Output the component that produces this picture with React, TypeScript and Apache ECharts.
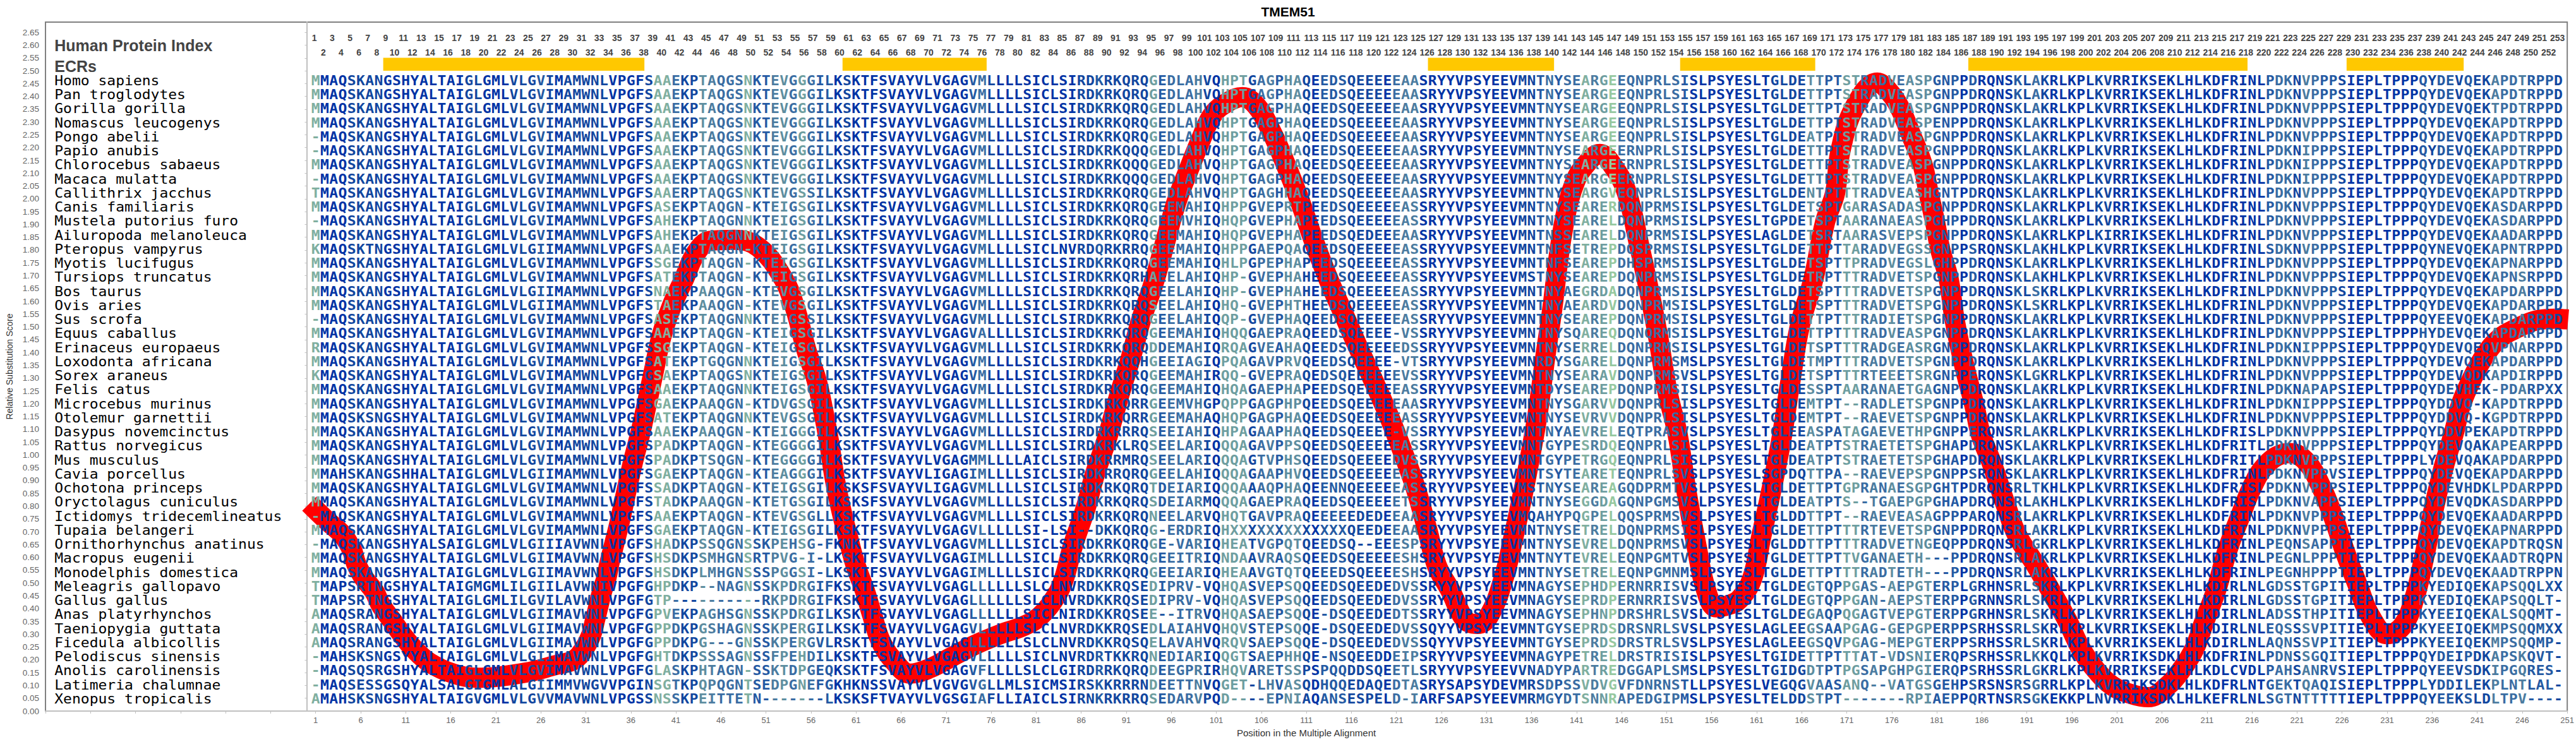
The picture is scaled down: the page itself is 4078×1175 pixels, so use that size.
import React, { useEffect, useRef } from "react";
import * as echarts from "echarts";

const chartTitle = "TMEM51";
const speciesNames = [
  "Homo sapiens","Pan troglodytes","Gorilla gorilla","Nomascus leucogenys","Pongo abelii","Papio anubis","Chlorocebus sabaeus","Macaca mulatta","Callithrix jacchus","Canis familiaris","Mustela putorius furo","Ailuropoda melanoleuca","Pteropus vampyrus","Myotis lucifugus","Tursiops truncatus","Bos taurus","Ovis aries","Sus scrofa","Equus caballus","Erinaceus europaeus","Loxodonta africana","Sorex araneus","Felis catus","Microcebus murinus","Otolemur garnettii","Dasypus novemcinctus","Rattus norvegicus","Mus musculus","Cavia porcellus","Ochotona princeps","Oryctolagus cuniculus","Ictidomys tridecemlineatus","Tupaia belangeri","Ornithorhynchus anatinus","Macropus eugenii","Monodelphis domestica","Meleagris gallopavo","Gallus gallus","Anas platyrhynchos","Taeniopygia guttata","Ficedula albicollis","Pelodiscus sinensis","Anolis carolinensis","Latimeria chalumnae","Xenopus tropicalis",
];

const seg1 = [
"MMAQSKANGSHYALTAIGLGMLVLGVIMAMWNLVPGFSAAEK",
"MMAQSKANGSHYALTAIGLGMLVLGVIMAMWNLVPGFSAAEK",
"MMAQSKANGSHYALTAIGLGMLVLGVIMAMWNLVPGFSAAEK",
"MMAQSKANGSHYALTAIGLGMLVLGVIMAMWNLVPGFSAAEK",
"-MAQSKANGSHYALTAIGLGMLVLGVIMAMWNLVPGFSAAEK",
"-MAQSKANGSHYALTAIGLGMLVLGVIMAMWNLVPGFSAAEK",
"MMAQSKANGSHYALTAIGLGMLVLGVIMAMWNLVPGFSAAEK",
"-MAQSKANGSHYALTAIGLGMLVLGVIMAMWNLVPGFSAAEK",
"TMAQSKANGSHYALTAIGLGMLVLGVIMAMWNLVPGFSAAER",
"MMAQSKANGSHYALTAIGLGMLVLGVIMAMWNLVPGFSASEK",
"-MAQSKANGSHYALTAIGLGMLVLGVIMAMWNLVPGFSAHEK",
"MMAQSKANGSHYALTAIGLGMLVLGVIMAMWNLVPGFSAHEK",
"KMAQSKTNGSHYALTAIGLGMLVLGIIMAMWNLVPGFSAAEK",
"MMAQSKANGSHYALTAIGLGMLVLGVIMAMWNLVPGFSSGEK",
"MMAQSKANGSHYALTAIGLGMLVLGVIMAMWNLVPGFSATEK",
"MMAQSKANGSHYALTAIGLGMLVLGIIMAMWNLVPGFSNAEK",
"MMAQSKANGSHYALTAIGLGMLVLGIIMAMWNLVPGFSTAEK",
"-MAQSKANGSHYALTAIGLGMLVLGVIMAMWNLVPGFSASEK",
"MMAQSKANGSHYALTAIGLGMLVLGVIMAMWNLVPGFSAAEK",
"RMAQSKANGSHYALTAIGLGMLVLGVIMAMWNLVPGFSSGEK",
"MMAQSKANGSHYALTAIGLGMLVLGVIMAMWNLVPGFSATEK",
"KMAQSKANGSHYALTAIGLGMLVLGVIMAMWNLVPGFGSAEK",
"MMAQSKANGSHYALTAIGLGMLVLGVIMAMWNLVPGFSAAEK",
"MMAQSKANGSHYALTAIGLGMLVLGVIMAMWNLVPGFSGAEK",
"MMAQSKSNGSHYALTAIGLGMLVLGVIMAMWNLVPGFSATEK",
"MMAQSKANGSHYALTAIGLGMLVLGVIMAMWNLVPGFSAAEK",
"MMAQSKANGSHYALTAIGLGMLVLGVIMAMWNLVPGFSPADK",
"MMAQSKANGSHYALTAIGLGMLVLGVIMAMWNLVPGFSPADK",
"MMAHSKANGSHHALTAIGLGMLVLGIIMAMWNLVPGFSGAEK",
"MMAQSKANGSHYALTAIGLGMLVLGVIMAMWNLVPGFSSADK",
"MMAQSKANGSHYALTAIGLGMLVLGVIMAMWNLVPGFSTADK",
"-MAQSKANGSHYALTAIGLGMLVLGVIMAMWNLVPGFSAAEK",
"MMAQSKANGSHYALTAIGLGMLVLGVIMAMWNLVPGFSGAEK",
"-MAQSKANGSHYALSAIGLGMLVLGIIIAVWNLVPGFSHADK",
"MMAQSKANGSHYALTAIGLGMLVLGIIMAVWNLVPGFSHSDK",
"MMAQSKANGSHYALTAIGLGMLVLGIIMAVWNLVPGFSHSDK",
"TMAPSRTNGSHYALTAIGMGMLILGIILAVWNIVPGFGHPDK",
"TMAPSRTNGSHYALTAIGLGMLILGVILAVWNLVPGFGTP--",
"AMAQSRANGSHYALTAIGLGMLVLGIIMAVWNLVPGFGPVEK",
"AMAQSRANGSHYALTAIGLGMLVLGIIMAVWNLVPGFGPPDK",
"AMAQSRANGSHYALTAIGLGMLVLGIIMAVWNLVPGFGPPDK",
"-MAHSKSNGSYYALTAIGLGMLVLGIIMAVWNLVPGFGHTDK",
"-MAQSQSRGSHYALTAIGLGMLVLGVIMAVWNLVPGFGLASK",
"-MAQSESSGSQYALSALGIGMLALGIIMMVWGVVPGINSGTK",
"AMAHSKSNGSHYALTAIGVGMLVLGVVMAVWNLVPGSSNSSK",
];

const seg2 = [
"PTAQGSNKTEVGGGILKSKTFSVAYVLVGAGVMLLLLSICLS",
"PTAQGSNKTEVGGGILKSKTFSVAYVLVGAGVMLLLLSICLS",
"PTAQGSNKTEVGGGILKSKTFSVAYVLVGAGVMLLLLSICLS",
"PTAQGSNKTEVGGGILKSKTFSVAYVLVGAGVMLLLLSICLS",
"PTAQGSNKTEVGGGILKSKTFSVAYVLVGAGVMLLLLSICLS",
"PTAQGSNKTEVGGGILKSKTFSVAYVLVGAGVMLLLLSICLS",
"PTAQGSNKTEVGGGILKSKTFSVAYVLVGAGVMLLLLSICLS",
"PTAQGSNKTEVGGGILKSKTFSVAYVLVGAGVMLLLLSICLS",
"PTAQGSNKTEVGSSILKSKTFSVAYVLVGAGVMLLLLSICLS",
"PTAQGN-KTEIGSGILKSKTFSVAYVLVGAGVMLLLLSICLS",
"PTAQGNNKTEIGSGILKSKTFSVAYVLVGAGVMLLLLSICLS",
"PTAQGNNKTEIGSGILKSKTFSVAYVLVGAGVMLLLLSICLS",
"PTAQGN-KTEIGSGILKSKTFSVAYVLVGAGVMLLLLSICLN",
"PTAQGN-KTEIGSGILKSKTFSVAYVLVGAGVMLLLLSICLS",
"PTAQGN-KTEIGSGILKSKTFSVAYVLVGAGVMLLLLSICLS",
"PAAQGN-KTEVGSGILKSKTFSVAYVLVGAGVMLLLLSICLS",
"PAAQGN-KTEVGSGILKSKTFSVAYVLVGAGVMLLLLSICLS",
"PTAQGNNKTEIGSSILKSKTFSVAYVLVGAGVMLLLLSICLS",
"PTAQGN-KTEIGSGILKSKTFSVAYVLVGAGVALLLLSICLS",
"PTAQGN-KTEIGSGILKSKTFSVAYVLVGAGVMLLLLSICLS",
"PTGQGNNKTEIGSGILKSKTFSVAYVLVGAGVMLLLLSICLS",
"PTAQGSNKTEIGSGILKSKTFSVAYVLVGAGVMLLLLSICLS",
"PTAQGNNKTEIGSGILKSKTFSVAYVLVGAGVMLLLLSICLS",
"PAAQGN-KTDVGSGILKSKTFSVAYVLVGAGVMLLLLSICLS",
"PTAQGNNKTEVGSGILKSKTFSVAYVLVGAGVMLLLLSICLS",
"PAAQGN-KTEIGGGILKSKTFSVAYVLVGAGVMLLLLSICLS",
"PTAQGN-KTEGGGGILKSKTFSVAYVLVGAGVMLLLLSICLS",
"PTSQGN-KTEGGGGILKSKTFSVAYVLVGAGMMLLLLAICLS",
"PTAQGN-KTEAGGGILKSKTFSVAYVLIGAGIMLLLLSICLS",
"PTAQGN-KTEIGSGILKSKSFSVAYVLIGAGVMLLLLSICLS",
"PAAQGN-KTETGSGILKSKSFSVAYVLVGAGVMLLLLSICLS",
"PTAQGN-KTEVGSGLLKSKTFSVAYVLVGAGVMLLLLSICLS",
"PTAQGN-KTEIGSGILKSKTFSVAYVLVGAGVLLLLLSI-LS",
"PSSQGNSSKPEHSG-FKNKTFSVAYVLVGAGVMLLLLSICLS",
"PSMHGNSRTPVG-I-LKSKTFSVAYVLVGAGIMLLLLSICLS",
"PLMHGNSSSPGGSI-LKSKTFSVAYVLVGAGIMLLLLSICLS",
"P--NAGNSSKPDRGIFKSKTFSVAYVLVGAGLLLLLLSLCLN",
"--------RKPDRGIFKSKTFSVAYVLVGAGLLLLLLSLCLN",
"PAGHSGNSSKPDRGILKSKTFSVAYVLVGAGLLLLLLSICLN",
"PGSHAGNSSKPERGILKSKTFSVAYVLVGAGVLLLLLSLCLN",
"PG---GNSSKPERGVLRSKTFSVAYVLVGAGLLLLLLSLCLN",
"PSSSAGNSSFPEHDILKSKTFSVAYVLVGAGVLLLLLSICLN",
"PHTAGN-SSKTDPGEQKSKTFSVAYVLVGAGVFLLLLSLCLG",
"PQPQGNTSEDPGNEFGKHKNSSVAYVLVGVGVGLLMLSICMS",
"PEITTETN-------LKSKSFTVAYVLVGSGIAFLLIAICLS",
];

const seg3 = [
"IRDKRKQRQGEDLAHVQHPTGAGPHAQEEDSQEEEEEAASR",
"IRDKRKQRQGEDLAHVQHPTGAGPHAQEEDSQEEEEEAASR",
"IRDKRKQRQGEDLAHVQHPTGAGPHAQEEDSQEEEEEAASR",
"IRDKRKQRQGEDLAHVQHPTGAGPHAQEEDSQEEEEEAASR",
"IRDKRKQRQGEDLAHVQHPTGAGPHAQEEDSQEEEEEAASR",
"IRDKRKQQQGEDLAHVQHPTGAGPHAQEEDSQEEEEEAASR",
"IRDKRKQQQGEDLAHVQHPTGAGPHAQEEDSQEEEEEAASR",
"IRDKRKQQQGEDLAHVQHPTGAGPHAQEEDSQEEEEEAASR",
"IRDKRKQRQGEDLAHVQHPTGAGHHAQEEDSQEEEEEAASR",
"IRDKRKQRQGEEMAHIQHPPGVEPRTPEEDSQEEEEEASSR",
"IRDKRKQRQGEEMVHIQHQPGVEPHAPEEDSQEEEEEASSR",
"IRDKRKQRQGEEMAHIQHQPGVEPHAPEEDSQEDEEEAASR",
"VRDQRKRRQGEEMAHIQHPPGAEPQAQEEDSQEEEEEASSR",
"IRDKRKQRQGEEMAHIQHLPGPEPHAPEEDSQEEEEEASSR",
"IRDKRKQRHAEELAHIQHP-GVEPHAHEEDSQEEEEEASSR",
"IRDKRKQRQGEELAHIQHP-GVEPHAHEEDSQEEEEEASSR",
"IRDKRKQRQSEELAHIQHQ-GVEPHTHEEDSQEEEEEASSR",
"IRDKRKQRQGEELAHIQQP-GVEPHAQEEDSQEEEEEASSR",
"IRDKRKQRQGEEMAHIQHQQGAEPRAQEEDSQEEEE-VSSR",
"IRDKRKQRQDDEMAHIQRQAGVEAHAQEEDSQEEEEEDSSR",
"IRDKRKQQHGEEIAGIQPQAGAVPRVQEEDSQEEEE-VTSR",
"IRDKRKQRQGEEMAHIRQQ-GVEPRAQEDSQEEEEEEVSSR",
"IRDKRKQRQGEEMAHIQHQAGAEPHAPEEDSQEEEEEASSR",
"IRDKRKQRRGEEMVHGPQPPGAGPHPQEEDSQEEEEEAASR",
"IRDKRKQRRGEEMAHAQHQPGAGPHAQEEDSQEEEEEASSR",
"IRDRKRRRQSEEIAHIQHPAGAAPHAQEEDSQEEEE-VSSR",
"IRDKRKLRQSEELARIQQQAGAVPPSQEEDSQEEEEEASSR",
"IRDKRRMRQSEELARIQQQAGTVPHSQEEDSQEEEEDVSSR",
"IRDKRRQRQGEELAHIQQQAGAAPHVQEEDSQEEEEEASSR",
"IRDKRKQRQTDEIARIQQQAAAQPHAQEENNQEEEEEASSR",
"IRDKRKQRQSDEIARMQQQAGAEPRAQEEDSQEEEEETSSR",
"IRDKRKQRQNEELARVQHQTGAVPRAQEEEEEDEDEEAASR",
"I--DKKQRQG-ERDRIQHXXXXXXXXXXXXXQEEDEEAASR",
"IRDKRKQRQGE-VARIQHEATVGPQTQEEDSQ--EEESPSR",
"IRDKRKQRQGEEITRIQNDAAVRAQSQEEDSQEEEEESHSR",
"IRDKRKQRQGEEIARIQHEAAVGTQTQEEEDSQEEEESHSR",
"VRDKKRQSEDIPRV-VQHQASVEPSQQEEDSQEEDEDVSSR",
"VRDKKRQSEDIPRV-VQHQASVEPSQQEEDSQEEDEDVSSR",
"IRDKKRQSEE--ITRVQHQASAEPSQQE-DSQEEDEDTSSR",
"VRDKKRQSEDLAIAHVQHQVSTEPSQQE-DSQEEDEDVSSQ",
"VRDKKRQSQELAVAHVQRQVSAEPSQQE-DSQEEDEDVSSQ",
"VRDRTKKRQNEDIARIQQGTSAEPHHQE-NSQEEDDEIPSR",
"IRDRRKQRQDEEGPRIRHQVARETSSPSPQQDDSQEETLSR",
"IRSKKRRRNDEETTNVQGET-LHVASQDHQQEDAQEDTASR",
"IRNKRKRRQSEDARVPQD----EPNIAQANSESPELD-IAR",
];

const seg4 = [
"YYVPSYEEVMNTNYSEARGEEQNPRLSISLPSYESLTGLDET",
"YYVPSYEEVMNTNYSEARGEEQNPRLSISLPSYESLTGLDET",
"YYVPSYEEVMNTNYSEARGEEQNPRLSISLPSYESLTGLDET",
"YYVPSYEEVMNTNYSEARGEEQNPRLSISLPSYESLTGLDET",
"YYVPSYEEVMNTNYSEARGEEQNPRLSISLPSYESLTGLDEA",
"YYVPSYEEVMNTNYSEARGEERNPRLSISLPSYESLTGLDET",
"YYVPSYEEVMNTNYSEARGEERNPRLSISLPSYESLTGLDET",
"YYVPSYEEVMNTNYSEARGEERNPRLSISLPSYESLTGLDET",
"YYVPSYEEVMNTNYSEARGVEQNPRLSISLPSYESLTGLDEN",
"YYVPSYEEVMNTNYSEARERDQNPRMSISLPSYESLTGLDET",
"YYVPSYEEVMNTNYSEARELDQNPRMSISLPSYESLTGPDET",
"YYVPSYEEVMNTNSSEARELDQNPRMSISLPSYESLAGLDET",
"YYVPSYEEVMNTNFSETREPDQSPRMSISLPSYESLTGLDET",
"YYVPSYEEVMNTNFSEAREPDHSPRMSISLPSYESLTGLDET",
"YYVPSYEEVMSTNYSEAREPDQNPRMSISLPSYESLTGLDET",
"YYVPSYEEVMNTNYAEGRDADQNPRMSISLPSYESLTGLDET",
"YYVPSYEEVMNTNYAEARDVDQNPRMSISLPSYESLTGLDET",
"YYVPSYEEVMNTNYSEAREPDQNPRMSISLPSYESLTGLDET",
"YYVPSYEEVMNTNYSQAREQDQNQRMSISLPSYESLTGLDET",
"YYVPSYEEVMNTNYSERRELDQNPRMSISLPSYESLTGLDET",
"YYVPSYEEVMNRDYSGARELDQNPRMSMSLPSYESLTGLDET",
"YYVPSYEEVMNTNYSEARAVDQNPRMSVSLPSYESLTGLDET",
"YYVPSYEEVMNTDYSEAREPDQNPRMSISLPSYESLTGLDES",
"YYVPSYEEVMNTNYSGARVVDQNPRLSISLPSYESLTGLDEM",
"YYVPSYEEVMNTNYSEVRVVDQNPRLSISLPSYESLTGLDEM",
"YYVPSYEEVMNTNYAEVRELEQTPRASVSLPSYESLTGLEEA",
"YYVPSYEEVMNTGYPESRDQEQNPRLSISLPSYESLTGLDEA",
"YYVPSYEEVMNTGYPETRGQEQNPRLSISLPSYESLTGLDEA",
"YYVPSYEEVMNTSYTEARETEQNPRLSVSLPSYESLSGPDQT",
"YYVPSYEEVMSTNYSEAREAGQDPRMTVSLPSYESLTGLDET",
"YYVPSYEEVMNTNYSEGGDAGQNPGMSVSLPSYESLTGLDEA",
"YYVPSYEEVMQAHYPQGPELQQSPRMSVSLPSYESLTGLDDT",
"YYVPSYEEVMNTNYSETRELDQNPRMSISLPSYESLTGLDET",
"YYVPSYEEVMNTNYSEVRELDQNPRMSVSLPSYESLTGLDDT",
"YYVPSYEEVMNTNYTEVRELEQNPGMTVSLPSYESLTGLDET",
"YYVPSYEEVMNTNYSETRELEQNPGMNMSLPSYESLTGLDET",
"YYVPSYEEVMNAGYSEPHDPERNRRISVSLPSYESLTGLDEG",
"YYVPSYEEVMNAGYSEPRDPERNRRISVSLPSYESLTGLDEG",
"YYVPSYEEVMNAGYSEPHNPDRSHRLSVSLPSYESLTGLDEG",
"YYVPSYEEVMNTGYSEPRDSDRSNRLSVSLPSYESLAGLEEG",
"YYVPSYEEVMNTGYSEPRDSDRSTRLSVSLPSYESLAGLEEG",
"YYVPSYEEVMNAGYPETRELDRSTRISISLPSYESLTGIDET",
"YYVPSYEEVVNADYPARTREDGGAPLSMSLPSYESLTGIDGD",
"YSAPSYDEVMRSDPSSVDVGVFDNRNSTLLPSYESLVEGQGV",
"FSAPSYEEVMRMGYDTSNNRAPEDGIPMSLPSYESLTELDDS",
];

const seg5 = [
"TPTSTRADVEASPGNPPDRQNSKLAKRLKPLKVRRIKSEKLH",
"TPTSTRADVEASPGNPPDRQNSKLAKRLKPLKVRRIKSEKLH",
"TPTSTRADVEASPGNPPDRQNSKLAKRLKPLKVRRIKSEKLH",
"TPTSTRADVEASPENPPDRQNSKLAKRLKPLKVRRIKSEKLH",
"TPTSTRADVEASPGNPPDRQNSKLAKRLKPLKVRRIKSEKLH",
"TPTSTRADVEASPGNPPDRQNSKLAKRLKPLKVRRIKSEKLH",
"TPTSTRADVEASPGNPPDRQNSKLAKRLKPLKVRRIKSEKLH",
"TPTSTRADVEASPGNPPDRQNSKLAKRLKPLKVRRIKSEKLH",
"TPTTTRADVEASHGNTPDRQNSKLAKRLKPLKVRRIKSEKLH",
"SPTGARASADASPGNPPDRQNSKLAKRLKPLKVRRIKSEKLH",
"SPTAARANAEASPGHPPDRQNSKLAKRLKPLKVRRIKSEKLH",
"SRTAARASVEPSPGNPPDRQNSKLAKRLKPLKIRRIKSEKLH",
"TPTTARADVEGSSGNPPSRQNSKLAKHLKPLKVRRIKSEKLH",
"SPTTPRADVEGSLGHPPDRQNSKLAKRLKPLKVRRIKSEKLH",
"RPTTTRADVETSPGNPPDRQNSKLAKHLKPLKVRRIKSEKLH",
"SPTTTRADVETSPGNPPDRQNSKLSKRLKPLKVRRIKSEKLH",
"SPTTTRADVETSPGNPPDRQNSKLSKRLKPLKVRRIKSEKLH",
"TPTTTRADIETSPGNPPDRQNSKLAKRLKPLKVRRIKSEKLH",
"TPTTTRADVEASPGNPPDRQNSKLAKRLKPLKVRRIKSEKLH",
"SPTTTRADGEASRGNPPDRQNSKLAKRLKPLKVRRIKSEKLH",
"MPTTTRADVETSPGNPPDRQNSKLAKRLKPLKVRRIKSEKLH",
"SPTTTRTEEETSRGNPPERQNSKLGKRLKPLKVRRIKSEKLH",
"SPTAARANAETGAGNPPDRQNSKLAKRLKPLKVRRIKSEKLH",
"TPT--RADLETSPGNPPDRQNSKLAKRLKPLKVRRIKSEKLH",
"TPT--RAEVETSPGNPPDRQNSKLAKRLKPLKVRRIKSEKLH",
"SPATAGAEVETHPGNPPERQNSRLAKRLKPLKVRRIKSEKLH",
"TPTSTRAETETSPGHAPDRQNSKLAKRLKPLKVRRIKSEKLH",
"TPTSTRAETETSPGHAPDRQNSKLAKRLKPLKVRRIKSEKLH",
"TPA--RAEVEPSPGNPPSRQNSKLAKRLKPLKVRRIKSEKLH",
"TPTGPRANAESGPGHTPDRQNSRLTKHLKPLKVRRIKSEKLH",
"TPTS--TGAEPGPGHAPDRQNSRLAKHLKPLKVRRIKSEKLH",
"TPT--RAEVEASAGPPPARQNSRLAKRLKPLKVRRIKSEKLH",
"TPTTTRTEVETSPGNPPDRQNSRLAKRLKPLKVRRIKSEKLH",
"TPTTTRADVETNGEQPPDRQNSRLGKRLKPLKVRRIKSEKLH",
"TPTTVGANAETH---PPDRQNSRLAKRLKPLKVRRIKSEKLH",
"TPTTTRADTETH---PPDRQNSRLAKRLKPLKVRRIKSEKLH",
"TQPPGAS-AEPGTERPLGRHNSRLSKRLKPLKVRRIKSEKLH",
"TQPPGAN-AEPSTERPPGRNNSRLSKRLKPLKVRRIKSEKLH",
"AQPQGAGTVEPGTERPPGRHNSRLSKRLKPLKVRRIKSEKLH",
"SAAPGAG-GEPGPERPPSRHSSRLSKRLKPLKVRRIKSEKLH",
"SQVPGAG-MEPGTERPPSRHSSRLSKRLKPLKVRRIKSEKLH",
"TPTTTAT-VDSNIERQPSRHSSRLKKQLKPLKVRRIKSDKLH",
"TPTPGSAPGHPGIERQPSRHSSRLGKRLKPLKVRRIKSEKLH",
"AASANQ--VATGSGEHPSRSNSRSGRRLKPLKVRRIKSDKLH",
"TPT-------RPIAEPPQRTNSRSGKEKKPLNVRRIKSDKLH",
];

const seg6 = [
"LKDFRINLPDKNVPPPSIEPLTPPPQYDEVQEKAPDTRPPD",
"LKDFRINLPDKNVPPPSIEPLTPPPQYDEVQEKAPDTRPPD",
"LKDFRINLPDKNVPPPSIEPLTPPPQYDEVQEKTPDTRPPD",
"LKDFRINLPDKNVPPPSIEPLTPPPQYDEVQEKAPDTRPPD",
"LKDFRINLPDKNVPPPSIEPLTPPPQYDEVQEKAPDTRPPD",
"LKDFRINLPDKNIPPPSIEPLTPPPQYDEVQEKAPDTRPPD",
"LKDFRINLPDKNIPPPSIEPLTPPPQYDEVQEKAPDTRPPD",
"LKDFRINLPDKNIPPPSIEPLTPPPQYDEVQEKAPDTRPPD",
"LKDFRINLPDKNVPPPSIEPLTPPPQYDEVQEKAPDTRPPD",
"LKDFRINLPDKNVPPPSIEPLTPPPQYDEVQEKASDARPPD",
"LKDFRINLPDKNVPPPSIEPLTPPPQYDEVQEKASDARPPD",
"LKDFRINLPDKNVPPPSIEPLTPPPQYDEVQEKAADARPPD",
"LKDFRINLSDKNVPPPSIEPLTPPPQYNEVQEKAPNTRPPD",
"LKDFRINLPDKNVPPPSIEPLTPPPQYDEVQEKAPNARPPD",
"LKDFRINLPDKNVPPPSIEPLTPPPQYDEVQEKAPNSRPPD",
"LKDFRINLPDKNVPPPSIEPLTPPPQYDEVQEKAPDARPPD",
"LKDFRINLPDKNVPPPSIEPLTPPPQYDEVQEKAPDARPPD",
"LKDFRINLPDKNVPPPSIEPLTPPPQYEEVQEKAPDARPPD",
"LKDFRINLPDKNVPPPSIEPLTPPPHYDEVQEKAPDARPPD",
"LKDFRINLPDKNIPPPSIEPLTPPPQYDEVQEQVPNARPPD",
"LKDFRINLPDKNVPPPSIEPLTPPPQYDEVQEKAPDARPPD",
"LKDFRINLPDKNVPPPSIEPLTPPPQYDEVQDKAPDIRPPD",
"LKDFRINLPDKNAPAPSIEPLTPPPQYDEVHEK-PDARPXX",
"LKDFRINLPDKNIPPPSIEPLTPPPQYDDVQ-KAPDTRPPD",
"LKDFRINLPDKNVPPPSIEPLTPPPQYDDVQ-KGPDTRPPD",
"LKDFRISLPDKNVPPPSIEPLTPPPQYDDVPEKAPDTRPPD",
"LKDFRITLPDKNVPPPSIEPLTPPPQYDEVQAKAPEARPPD",
"LKDFRITLPDKNVPPPSIEPLTPPPLYDEVQAKAPDARPPD",
"LKDFRINLPDKNVPPVSIEPLTPPPQYDEVQEKAPDARPPD",
"LKDFRISLPDKNVPPPSIEPLTPPPQYDEVHDKLPDARPPD",
"LKDFRISLPDKNVAPPSIEPLTPPPQYDEVQDKASDARPPD",
"LKDFRINLPDKNVPPPSIEPLTPPPQYDEVQEKAADARPPD",
"LKDFRINLPDKNVPPPSIEPLTPPPQYDEVQEKAPNARPPD",
"LKDFRINLPEQNSAPPTIEPLTPPPQYDEVQEKAPDTRQSN",
"LKDFRINLPEGNLPPPTIEPLTPPPQYDEVQEKAADTRQPN",
"LKDFRINLPEGNHPPPTIEPLTPPPQYDEVQEKAADTRPPN",
"LKDIRLNLGDSSTGPITIEPLTPPPKYEDIQEKAPSQQLXX",
"LKDIRLNLGDSSTGPITIEPLTPPPKYEDIQEKAPSQQLT-",
"LKDIRLNLADSSTHPITIEPLTPPPKYEEIQEKALSQQMT-",
"LKDIRLNLEQSSSVPITIEPLTPPPKYEEIQEKMPSQQMXX",
"LKDIRLNLAQNSSVPITIEPLTPPPKYEEIQEKMPSQQMP-",
"LKDFRINLPDNSSGQITIEPLTPPPQYDEIPDKAPSKQVT-",
"LKDLCVDLPAHSANRVSIEPLTPPPQYEEVSDKIPGQRES-",
"LKDFRLNTGEKTQAQISIEPLTPPPLYDDILEKPLNTLAL-",
"LKEFRLNLSGTNTTTTTIEPLTPPPQYEEKSLDLTPV----",
];

// conservation shade of each alignment column (0 darkest blue .. 8 palest green)
const shadeRows = [
  "7000111100","0000000110","0011121011","1110000177","3115433372",
  "2453632201","0000000000","0002310000","0000011211","1116233341",
  "0666134255","1022211110","3440000000","0000112323","3746833333",
  "3320000000","0011115422","6634353555","2220200002","1310000011",
  "0000000000","0000000233","1432210000","0000212212","1143342221",
];

const shadePalette = ["#0033a5","#12479f","#255aa3","#3a6da3","#4c7ca0","#5e8ea0","#6e9ea0","#80afa0","#96c8a0"];

const ecrStarts = [9, 60, 125, 153, 185, 227];
const ecrEnds = [37, 75, 138, 167, 215, 239];

const curvePositions = [
  0.3,2.2,4,5,5.5,6.3,7.5,8.3,9.5,10.6,11.9,13.6,16.3,19,24.3,27.6,29.7,30.8,31.6,32,32.4,32.8,33.3,33.6,34,34.8,35.5,36.2,37,37.7,38.5,39.4,40.5,41.9,43.2,44.8,47.5,50.2,52.9,54.2,55.5,56.6,57.4,58,58.6,59.3,60.1,60.9,62,62.8,63.8,65.2,67,69.2,71.6,74.3,77,79.6,81.5,83.3,
  84.1,85.1,86.5,87.5,88.9,90.2,91.6,92.6,94,95.3,96.6,98,99.3,100.6,102.3,103.9,105.5,107.1,108.7,110.3,111.9,113.5,115.1,116.7,118.6,120.2,121.8,123.1,124.4,125.5,
  127,128.6,130,131.3,132.9,134,135,135.9,136.7,137.5,138.3,139.1,139.9,140.7,141.7,143.6,145.2,146.6,147.9,149,150,151.1,152.2,153.2,154.3,155.4,156.5,157.8,159.1,160.5,161.5,162.6,163.7,164.7,165.8,167.3,168.6,
  169.7,170.3,171.9,174.4,175.9,176.9,178.2,179.4,180.1,180.8,181.4,182.3,183,184,185.2,185.9,187.1,188.7,189.9,191.9,193.7,195.5,197,198.6,200.5,202.6,204.5,206.6,208.2,209.6,
  210.6,212,213.3,214.7,216,217.4,219.3,220.3,222.1,223.7,225,226.4,227.8,229.1,231,232.7,234,235.1,236.2,237.3,238.4,239.2,240.6,241.9,243.5,245.5,247.4,249.5,251.1,
];
const curveValues = [
  0.81,0.745,0.688,0.631,0.575,0.522,0.467,0.41,0.353,0.298,0.243,0.19,0.146,0.13,0.15,0.179,0.2,0.243,0.298,0.353,0.41,0.467,0.522,0.575,0.631,0.745,0.858,0.968,1.078,1.188,1.32,1.464,1.578,1.687,1.787,1.836,1.84,1.81,1.69,1.577,1.408,1.294,1.165,1.052,0.914,0.793,0.68,0.575,0.467,0.373,0.268,0.195,0.146,0.167,0.211,0.26,0.3,0.332,0.373,0.454,
  0.518,0.648,0.793,0.922,1.068,1.23,1.391,1.521,1.666,1.828,1.99,2.119,2.232,2.329,2.378,2.397,2.361,2.264,2.135,1.99,1.828,1.682,1.553,1.424,1.278,1.149,1.003,0.874,0.712,0.567,
  0.47,0.357,0.34,0.373,0.518,0.68,0.842,1.003,1.165,1.375,1.569,1.796,1.957,2.054,2.12,2.175,2.12,2.022,1.828,1.65,1.472,1.246,1.084,0.858,0.648,0.47,0.405,0.413,0.437,0.518,0.68,0.858,1.052,1.278,1.505,1.687,1.91,
  2.022,2.187,2.36,2.454,2.41,2.355,2.245,2.136,2.022,1.91,1.8,1.69,1.524,1.356,1.189,1.078,0.968,0.8,0.688,0.575,0.467,0.353,0.243,0.163,0.098,0.066,0.054,0.098,0.163,0.243,
  0.34,0.47,0.631,0.761,0.874,0.955,1.003,1.007,0.971,0.874,0.761,0.615,0.486,0.373,0.3,0.332,0.437,0.599,0.793,0.955,1.084,1.197,1.31,1.391,1.456,1.496,1.524,1.532,1.529,
];

const positionLabels = Array.from({ length: 281 }, (_, i) => (i < 30 ? "" : String(i - 29)));
const scoreTicks = Array.from({ length: 54 }, (_, i) => Number((i * 0.05).toFixed(2)));
const indexLabels = Array.from({ length: 253 }, (_, i) => i + 1);

const SEQ_FONT = "bold 22px 'DejaVu Sans Mono'";
const NAME_FONT = "22px 'DejaVu Sans Mono'";
const HEAD_FONT = "bold 25px 'Liberation Sans'";
const INDEX_FONT = "bold 14px 'Liberation Sans'";
const SANS = "'Liberation Sans', Arial, sans-serif";

export default function App() {
  const ref = useRef<HTMLDivElement>(null);
  useEffect(() => {
    document.body.style.margin = "0";
    const chart = echarts.init(ref.current!, undefined, { renderer: "svg" });
    const rows = speciesNames.map((_, i) => seg1[i] + seg2[i] + seg3[i] + seg4[i] + seg5[i] + seg6[i]);
    const shades = shadeRows.join("");
    const cells: number[][] = [];
    rows.forEach((r, ri) => {
      for (let c = 0; c < r.length; c++) cells.push([c + 1, ri]);
    });
    const textItem = (api: any, x: number, y: number, text: string, font: string, fill: string, align: string, scaleX = 1) => {
      const p = api.coord([x, y]);
      return { type: "text", x: p[0], y: p[1], scaleX, silent: true, style: { text, font, fill, align, verticalAlign: "middle" } };
    };
    const common = { type: "custom", coordinateSystem: "cartesian2d", clip: false, silent: true, progressive: 0, animation: false } as any;
    chart.setOption({
      animation: false,
      backgroundColor: "#fff",
      title: {
        text: chartTitle, left: "center", top: 3,
        textStyle: { fontFamily: SANS, fontSize: 21, fontWeight: "bold", color: "#000" },
      },
      grid: { left: 68, right: 1, top: 35, bottom: 49, show: true, borderColor: "#808080", borderWidth: 2, backgroundColor: "transparent" },
      xAxis: [
        {
          type: "category", data: positionLabels, boundaryGap: false, offset: 3,
          name: "Position in the Multiple Alignment", nameLocation: "middle", nameGap: 24,
          nameTextStyle: { fontFamily: SANS, fontSize: 15, color: "#333" },
          axisLine: { show: true, lineStyle: { color: "#c0c0c0", width: 2 } },
          axisTick: { show: true, interval: 4, length: 4, lineStyle: { color: "#c0c0c0" } },
          axisLabel: { interval: 4, margin: 5, fontFamily: SANS, fontSize: 13, color: "#666", showMaxLabel: true, hideOverlap: false },
          splitLine: { show: false },
        },
        { type: "value", min: -29, max: 251, show: false },
        { type: "value", min: -29.21, max: 254.1, show: false },
      ],
      yAxis: [
        {
          type: "value", min: 0, max: 2.69, offset: 3,
          name: "Relative Substitution Score", nameLocation: "middle", nameGap: 47,
          nameTextStyle: { fontFamily: SANS, fontSize: 14, color: "#333" },
          axisLine: { show: true, lineStyle: { color: "#c0c0c0", width: 2 } },
          axisTick: { show: true, length: 3, customValues: scoreTicks, lineStyle: { color: "#c0c0c0" } },
          axisLabel: { customValues: scoreTicks, margin: 7, fontFamily: SANS, fontSize: 13.5, color: "#666", formatter: (v: number) => v.toFixed(2) },
          splitLine: { show: false },
        },
        { type: "value", min: -4.135, max: 44.9, inverse: true, show: false },
      ],
      series: [
        {
          ...common, z: 1, xAxisIndex: 1, yAxisIndex: 1,
          data: ecrStarts.map((s, i) => [s, ecrEnds[i]]),
          renderItem: (_: any, api: any) => {
            const a = api.coord([api.value(0) - 0.5, -1.6]);
            const b = api.coord([api.value(1) + 0.5, -0.67]);
            return { type: "rect", shape: { x: a[0], y: a[1], width: b[0] - a[0], height: b[1] - a[1] }, style: { fill: "#ffc800" } };
          },
        },
        {
          type: "line", z: 2, xAxisIndex: 1, yAxisIndex: 0, smooth: 0.4, symbol: "none", silent: true,
          lineStyle: { color: "#ff0000", width: 32, cap: "butt", join: "round" },
          data: curvePositions.map((p, i) => [p, curveValues[i]]),
        },
        {
          ...common, z: 3, xAxisIndex: 1, yAxisIndex: 1, data: cells,
          renderItem: (_: any, api: any) => {
            const c = api.value(0); const r = api.value(1);
            return textItem(api, c, r, rows[r][c - 1], SEQ_FONT, shadePalette[+shades[c - 1]], "center", 1.05);
          },
        },
        {
          ...common, z: 4, xAxisIndex: 1, yAxisIndex: 1, data: speciesNames.map((_, i) => [-28, i]),
          renderItem: (p: any, api: any) => textItem(api, api.value(0), api.value(1), speciesNames[p.dataIndex], NAME_FONT, "#000", "left", 1.046),
        },
        {
          ...common, z: 4, xAxisIndex: 1, yAxisIndex: 1, data: [[-28, -2.47], [-28, -1]],
          renderItem: (p: any, api: any) => textItem(api, api.value(0), api.value(1), ["Human Protein Index", "ECRs"][p.dataIndex], HEAD_FONT, "#444", "left"),
        },
        {
          ...common, z: 4, xAxisIndex: 2, yAxisIndex: 1, data: indexLabels.map((n) => [n, n % 2 ? -3 : -2]),
          renderItem: (p: any, api: any) => textItem(api, api.value(0), api.value(1), String(indexLabels[p.dataIndex]), INDEX_FONT, "#444", "center"),
        },
      ],
    });
    return () => chart.dispose();
  }, []);
  return <div ref={ref} style={{ position: "absolute", left: 0, top: 0, width: 4078, height: 1175 }} />;
}
